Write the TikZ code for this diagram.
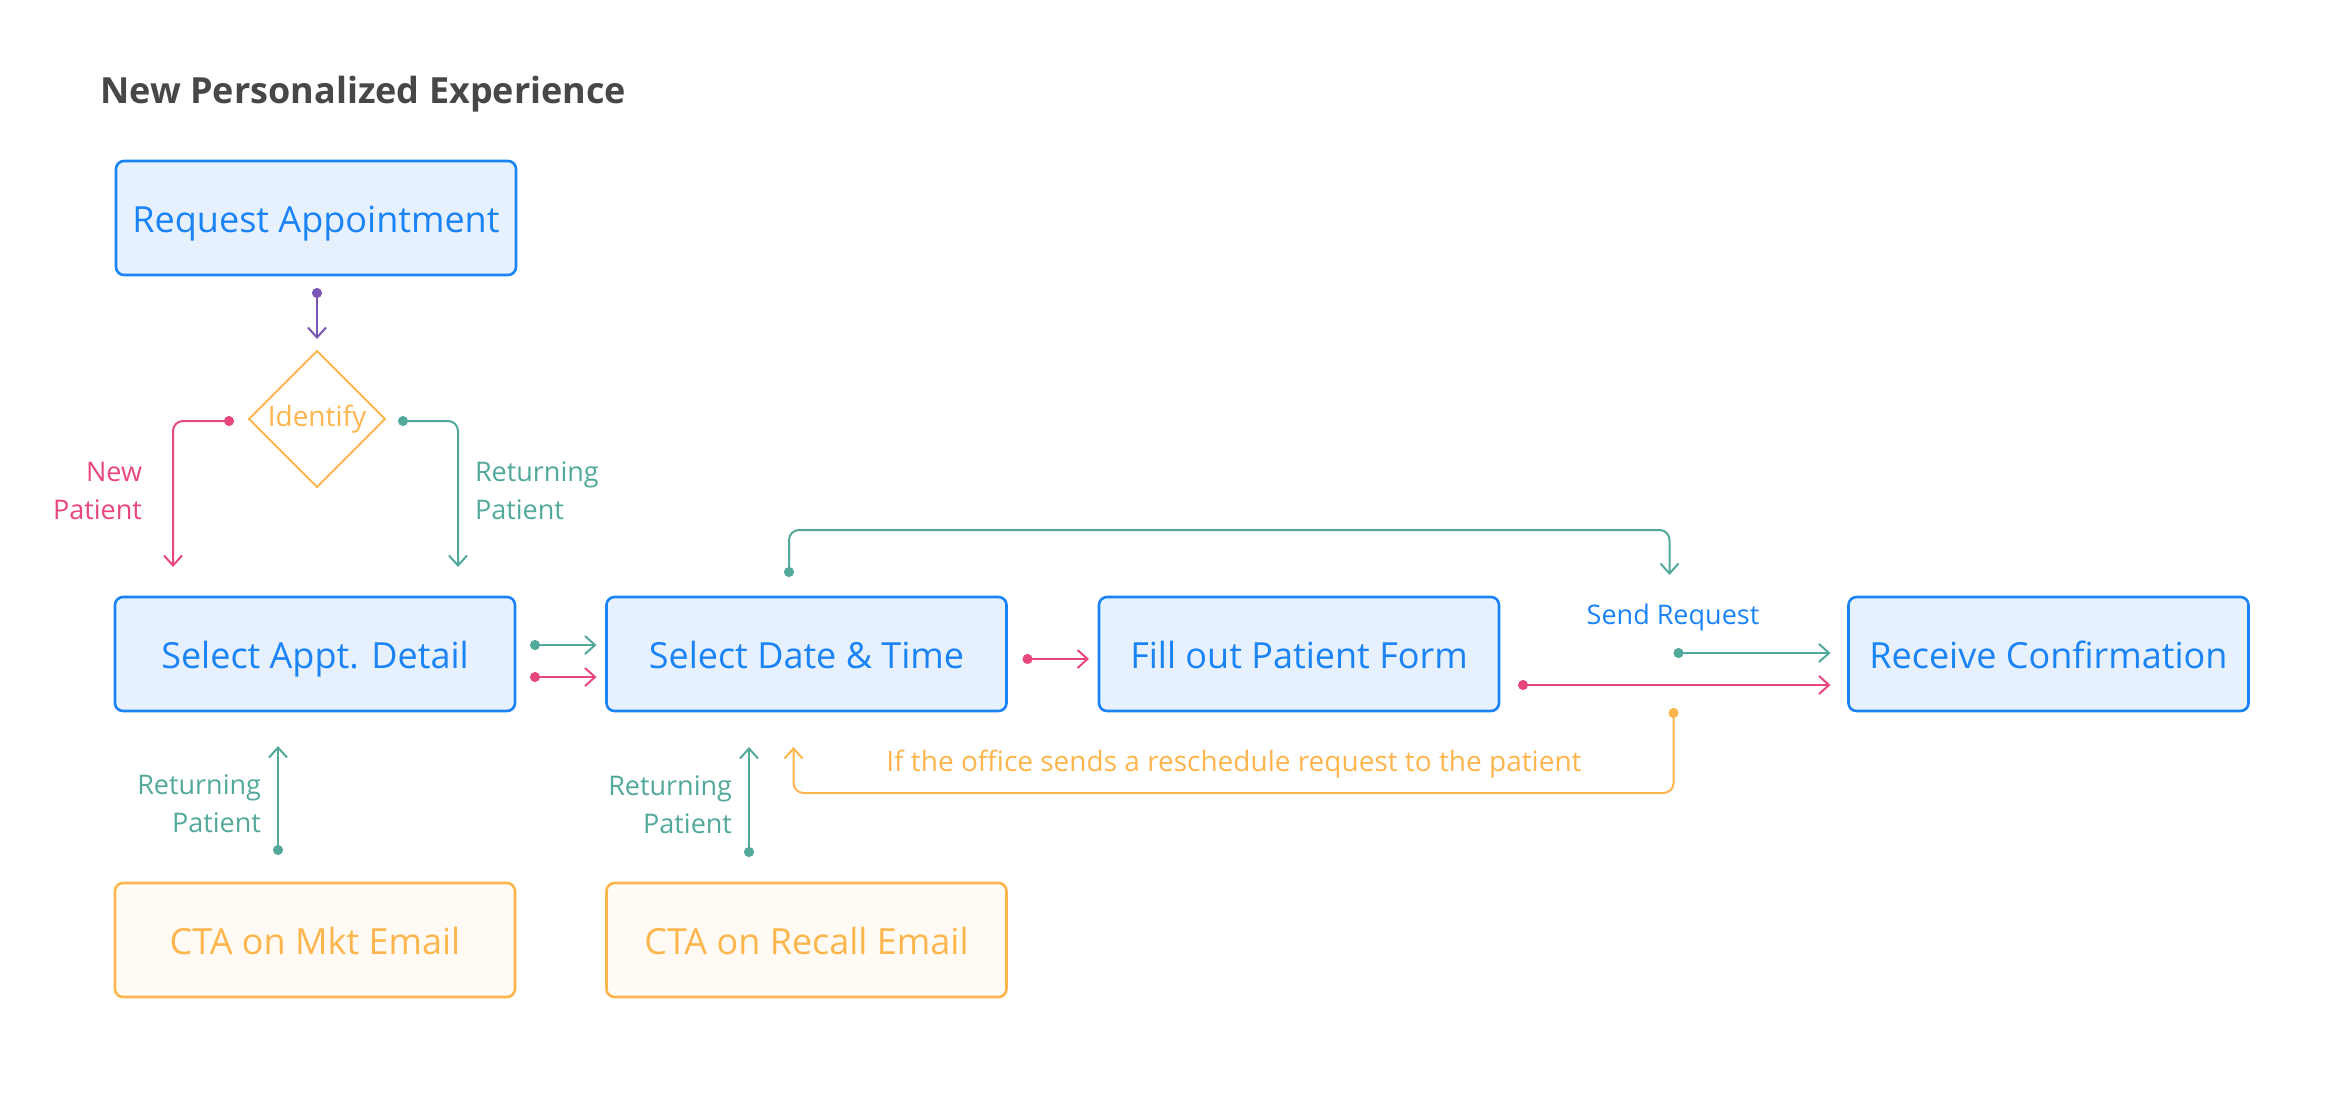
\documentclass[tikz,border=0pt]{standalone}
\usepackage{fontspec}
\setmainfont{Open Sans}
\usetikzlibrary{arrows.meta,shapes.geometric,calc}
\definecolor{bluec}{HTML}{1A83F5}
\definecolor{bluefill}{HTML}{E7F1FD}
\definecolor{orangec}{HTML}{FDB54E}
\definecolor{orangefill}{HTML}{FFFBF4}
\definecolor{tealc}{HTML}{52A99B}
\definecolor{pinkc}{HTML}{E8477E}
\definecolor{purplec}{HTML}{7B56B5}
\definecolor{titlec}{HTML}{474747}
\tikzset{
  box/.style={rectangle, rounded corners=4pt, line width=1.3pt, minimum width=200pt, minimum height=57pt, inner sep=0pt, outer sep=0pt, text height=14.6pt, text depth=0pt, font=\fontsize{18}{21}\selectfont},
  bluebox/.style={box, draw=bluec, fill=bluefill, text=bluec},
  orangebox/.style={box, draw=orangec, fill=orangefill, text=orangec},
  decision/.style={diamond, draw=orangec, line width=1pt, minimum width=68pt, minimum height=68pt, inner sep=0pt, outer sep=0pt, text=orangec, font=\fontsize{14}{17}\selectfont},
  lbl/.style={inner sep=0pt, outer sep=0pt, font=\fontsize{13.5}{19}\selectfont},
  conn/.style={line width=1pt, rounded corners=5pt, {Circle[length=5pt]}-{Straight Barb[length=5pt,width=9pt]}},
}
\begin{document}
\begin{tikzpicture}[x=0.5pt,y=-0.5pt]
\useasboundingbox (0,0) rectangle (2340,1114);
\node[anchor=base west, inner sep=0pt, text=titlec, font=\fontsize{18}{22}\selectfont\bfseries] (title) at (100,103) {New Personalized Experience};

\node[bluebox] (req) at (316,218) {Request Appointment};
\node[decision] (id) at (317,419) {Identify};
\node[bluebox] (appt) at (315,654) {Select Appt. Detail};
\node[bluebox] (date) at (806.5,654) {Select Date \& Time};
\node[bluebox] (form) at (1299,654) {Fill out Patient Form};
\node[bluebox] (conf) at (2048.5,654) {Receive Confirmation};
\node[orangebox] (mkt) at (315,940) {CTA on Mkt Email};
\node[orangebox] (recall) at (806.5,940) {CTA on Recall Email};

% Request -> Identify
\draw[conn, purplec] ($(req.south)+(1,13)$) -- ($(id.north)+(0,-12)$);
% Identify -> Select Appt (two branches)
\draw[conn, pinkc] ($(id.west)+(-15,2)$) -| ($(appt.north west)+(58,-30)$);
\draw[conn, tealc] ($(id.east)+(13,2)$) -| ($(appt.north east)+(-57,-30)$);
\node[lbl, text=pinkc, align=right, anchor=east] (lnew) at (142,491) {New\\Patient};
\node[lbl, text=tealc, align=left, anchor=west] (lret) at (475,491) {Returning\\Patient};

% Select Appt -> Select Date
\draw[conn, tealc] ($(appt.east)+(15,-9)$) -- ($(date.west)+(-10,-9)$);
\draw[conn, pinkc] ($(appt.east)+(15,23)$) -- ($(date.west)+(-10,23)$);
% Select Date -> Fill out form
\draw[conn, pinkc] ($(date.east)+(16,5)$) -- ($(form.west)+(-10,5)$);

% Top loop Select Date -> Send Request
\draw[conn, tealc] ($(date.north)+(-17.5,-20)$) |- ($(conf.north west)+(-179,-67)$) -- ($(conf.north west)+(-179,-22)$);
\node[lbl, text=bluec] (send) at (1673,617) {Send Request};
\draw[conn, tealc] ($(conf.west)+(-175,-1)$) -- ($(conf.west)+(-18,-1)$);
\draw[conn, pinkc] ($(form.east)+(19,31)$) -- ($(conf.west)+(-18,31)$);

% Reschedule loop
\draw[conn, orangec] ($(conf.west)+(-175,54)$) |- ($(date.south)+(-13,82)$) -- ($(date.south)+(-13,36)$);
\node[lbl, text=orangec, font=\fontsize{14}{19}\selectfont] (resch) at (1234,764) {If the office sends a reschedule request to the patient};

% CTA emails
\draw[conn, tealc] ($(mkt.north)+(-37,-28)$) -- ($(appt.south)+(-37,35)$);
\node[lbl, text=tealc, align=right, anchor=east] (lret2) at (261,804) {Returning\\Patient};
\draw[conn, tealc] ($(recall.north)+(-57.5,-26)$) -- ($(date.south)+(-57.5,36)$);
\node[lbl, text=tealc, align=right, anchor=east] (lret3) at (732,805) {Returning\\Patient};
\end{tikzpicture}
\end{document}
